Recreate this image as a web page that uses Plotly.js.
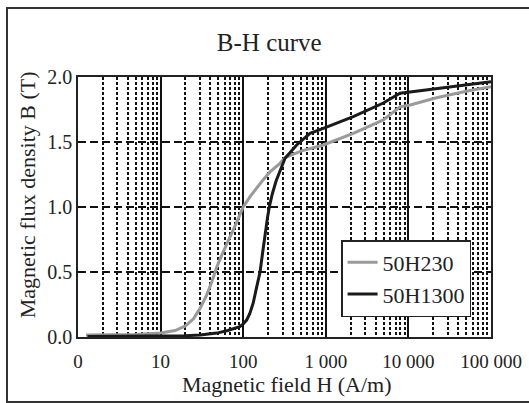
<!DOCTYPE html>
<html>
<head>
<meta charset="utf-8">
<script src="https://cdn.plot.ly/plotly-3.0.1.min.js"></script>
<style>html,body{margin:0;padding:0;background:#fff;}#chart{width:529px;height:403px;}
#chart svg text{font-family:"Liberation Serif","Times New Roman",serif !important;}</style>
</head>
<body>
<div id="chart"></div>
<script>
// Data
var seriesNames = ["50H230", "50H1300"];
var h50H230 = [1.25, 5, 10, 15, 20, 25, 30, 36, 42, 48, 55, 63, 72, 83, 100, 121, 175, 211, 279, 321, 500, 933, 2150, 4970, 7910, 10500, 21900, 50000, 100000];
var b50H230 = [0.015, 0.02, 0.03, 0.05, 0.085, 0.14, 0.22, 0.32, 0.43, 0.54, 0.63, 0.71, 0.80, 0.88, 1.0, 1.08, 1.21, 1.27, 1.336, 1.38, 1.43, 1.477, 1.567, 1.67, 1.77, 1.785, 1.84, 1.89, 1.925];
var h50H1300 = [1.3, 5, 10, 20, 30, 48, 65, 83, 91, 100, 110, 120, 132, 145, 160, 172, 184, 197, 207, 225, 250, 279, 321, 444, 644, 933, 2150, 4970, 7910, 13800, 40000, 100000];
var b50H1300 = [0.003, 0.004, 0.006, 0.01, 0.015, 0.03, 0.05, 0.07, 0.08, 0.1, 0.13, 0.18, 0.26, 0.38, 0.5, 0.65, 0.8, 0.92, 1.0, 1.1, 1.2, 1.28, 1.375, 1.477, 1.567, 1.605, 1.695, 1.80, 1.875, 1.895, 1.935, 1.964];
var xTickVals = [1, 10, 100, 1000, 10000, 100000];
var xTickText = ["0", "10", "100", "1 000", "10 000", "100 000"];
var yTickVals = [0, 0.5, 1.0, 1.5, 2.0];
var titleText = "B-H curve";
var xTitle = "Magnetic field H (A/m)";
var yTitle = "Magnetic flux density B (T)";

var fam = "Liberation Serif";
var ink = "#222";
var traces = [
  {x: h50H230, y: b50H230, name: seriesNames[0], mode: "lines",
   line: {color: "#9a9a9a", width: 3}},
  {x: h50H1300, y: b50H1300, name: seriesNames[1], mode: "lines",
   line: {color: "#1a1a1a", width: 3}}
];
var layout = {
  width: 529, height: 403,
  margin: {l: 78, r: 38, t: 77, b: 66},
  paper_bgcolor: "#fff", plot_bgcolor: "#fff",
  font: {family: fam, color: ink, size: 19},
  title: {text: titleText, font: {family: fam, size: 25, color: ink},
          xref: "container", x: 0.509, xanchor: "center",
          yref: "container", y: 0.896, yanchor: "middle"},
  xaxis: {type: "log", range: [0, 5], tickmode: "array", tickvals: xTickVals, ticktext: xTickText,
          showgrid: true, gridcolor: "#111", gridwidth: 1.5, ticks: "", ticklabelstandoff: 6,
          showline: true, mirror: true, linecolor: ink, linewidth: 1.5, zeroline: false,
          tickfont: {family: fam, size: 19, color: ink},
          minor: {dtick: "D1", showgrid: true, gridcolor: "#111", gridwidth: 2, griddash: "3px,2px", ticks: ""}},
  yaxis: {range: [0, 2], tickmode: "array", tickvals: yTickVals, tickformat: ".1f",
          showgrid: true, gridcolor: "#111", gridwidth: 1.5, griddash: "8px,4px", ticks: "",
          showline: true, mirror: true, linecolor: ink, linewidth: 1.5, zeroline: false,
          tickfont: {family: fam, size: 20, color: ink}},
  legend: {x: 0.637, y: 0.373, xanchor: "left", yanchor: "top",
           bgcolor: "#fff", bordercolor: ink, borderwidth: 1.5,
           font: {family: fam, size: 22, color: ink}},
  showlegend: true,
  annotations: [
    {text: xTitle, xref: "paper", yref: "paper", x: 0.506, y: -0.181, xanchor: "center", yanchor: "middle",
     showarrow: false, font: {family: fam, size: 22, color: ink}},
    {text: yTitle, xref: "paper", yref: "paper", x: -0.123, y: 0.546, xanchor: "center", yanchor: "middle",
     textangle: -90, showarrow: false, font: {family: fam, size: 22, color: ink}}
  ],
  shapes: [
    {type: "rect", xref: "paper", yref: "paper", x0: -0.1719, x1: 1.12, y0: -0.25, y1: 1.2654,
     line: {color: "#333", width: 2}, fillcolor: "rgba(0,0,0,0)", layer: "below"}
  ]
};
function draw() {
  Plotly.newPlot("chart", traces, layout, {displayModeBar: false});
}
if (document.fonts && document.fonts.load) {
  document.fonts.load('20px "Liberation Serif"').then(draw, draw);
} else {
  draw();
}
</script>
</body>
</html>
